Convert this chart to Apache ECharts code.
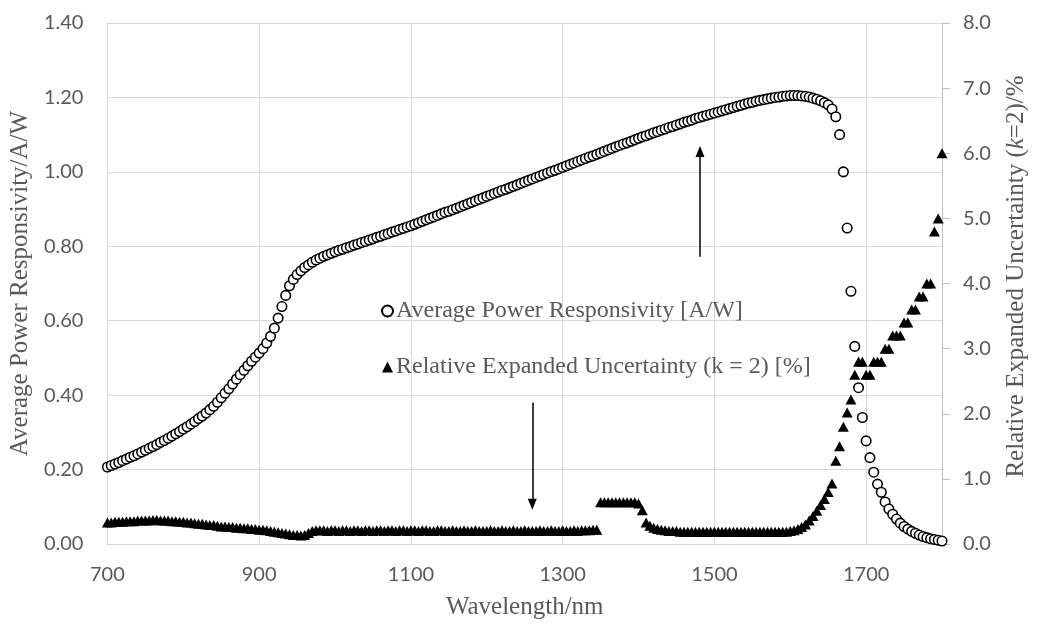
<!DOCTYPE html>
<html>
<head>
<meta charset="utf-8">
<script src="https://cdn.jsdelivr.net/npm/echarts@6/dist/echarts.min.js"></script>
<style>
html,body{margin:0;padding:0;background:#fff;}
#chart{width:1037px;height:625px;}
</style>
</head>
<body>
<div id="chart"></div>
<script>
// Wavelength (nm)
const wavelengths = [
700,705,710,715,720,725,730,735,740,745,750,755,760,765,770,775,780,785,790,795,
800,805,810,815,820,825,830,835,840,845,850,855,860,865,870,875,880,885,890,895,
900,905,910,915,920,925,930,935,940,945,950,955,960,965,970,975,980,985,990,995,
1000,1005,1010,1015,1020,1025,1030,1035,1040,1045,1050,1055,1060,1065,1070,1075,1080,1085,1090,1095,
1100,1105,1110,1115,1120,1125,1130,1135,1140,1145,1150,1155,1160,1165,1170,1175,1180,1185,1190,1195,
1200,1205,1210,1215,1220,1225,1230,1235,1240,1245,1250,1255,1260,1265,1270,1275,1280,1285,1290,1295,
1300,1305,1310,1315,1320,1325,1330,1335,1340,1345,1350,1355,1360,1365,1370,1375,1380,1385,1390,1395,
1400,1405,1410,1415,1420,1425,1430,1435,1440,1445,1450,1455,1460,1465,1470,1475,1480,1485,1490,1495,
1500,1505,1510,1515,1520,1525,1530,1535,1540,1545,1550,1555,1560,1565,1570,1575,1580,1585,1590,1595,
1600,1605,1610,1615,1620,1625,1630,1635,1640,1645,1650,1655,1660,1665,1670,1675,1680,1685,1690,1695,
1700,1705,1710,1715,1720,1725,1730,1735,1740,1745,1750,1755,1760,1765,1770,1775,1780,1785,1790,1795,
1800
];

// Average power responsivity (A/W)
const responsivity = [
0.207,0.211,0.215,0.219,0.224,0.228,0.233,0.237,0.242,0.247,0.252,0.257,0.262,0.267,0.273,0.278,0.284,0.290,0.296,0.302,
0.309,0.315,0.322,0.329,0.337,0.344,0.352,0.361,0.370,0.381,0.393,0.405,0.417,0.430,0.443,0.455,0.467,0.479,0.491,0.502,
0.513,0.525,0.540,0.558,0.580,0.607,0.638,0.668,0.694,0.711,0.724,0.734,0.743,0.750,0.757,0.763,0.768,0.773,0.777,0.781,
0.785,0.789,0.792,0.796,0.799,0.803,0.806,0.810,0.813,0.817,0.820,0.824,0.827,0.831,0.834,0.838,0.841,0.845,0.848,0.852,
0.855,0.859,0.863,0.867,0.871,0.875,0.879,0.883,0.887,0.891,0.894,0.898,0.902,0.906,0.910,0.914,0.918,0.922,0.926,0.930,
0.934,0.938,0.942,0.946,0.950,0.953,0.957,0.961,0.965,0.969,0.973,0.977,0.981,0.985,0.989,0.993,0.997,1.001,1.004,1.008,
1.012,1.016,1.020,1.024,1.028,1.032,1.036,1.040,1.043,1.047,1.051,1.055,1.059,1.063,1.067,1.071,1.075,1.078,1.082,1.086,
1.090,1.094,1.097,1.101,1.105,1.108,1.112,1.115,1.119,1.122,1.126,1.129,1.133,1.136,1.139,1.143,1.146,1.149,1.152,1.155,
1.158,1.161,1.164,1.167,1.170,1.173,1.176,1.179,1.182,1.185,1.187,1.190,1.192,1.194,1.196,1.198,1.200,1.201,1.203,1.204,
1.205,1.205,1.205,1.204,1.203,1.201,1.198,1.195,1.191,1.186,1.180,1.169,1.148,1.100,1.000,0.849,0.679,0.531,0.420,0.340,
0.277,0.232,0.193,0.161,0.139,0.113,0.094,0.080,0.067,0.056,0.047,0.040,0.034,0.029,0.024,0.020,0.017,0.014,0.012,0.010,
0.008
];

// Relative expanded uncertainty (k = 2) (%)
const uncertainty = [
0.33,0.33,0.34,0.34,0.34,0.35,0.35,0.35,0.36,0.36,0.36,0.36,0.37,0.37,0.36,0.36,0.36,0.35,0.35,0.34,
0.34,0.33,0.33,0.32,0.31,0.31,0.30,0.29,0.29,0.28,0.27,0.27,0.26,0.26,0.25,0.25,0.24,0.24,0.23,0.23,
0.22,0.22,0.21,0.20,0.19,0.18,0.17,0.16,0.15,0.14,0.14,0.13,0.14,0.17,0.20,0.21,0.21,0.21,0.20,0.21,
0.21,0.20,0.21,0.21,0.20,0.21,0.21,0.20,0.21,0.21,0.20,0.21,0.21,0.20,0.21,0.21,0.20,0.21,0.21,0.20,
0.21,0.21,0.20,0.21,0.21,0.20,0.20,0.21,0.21,0.20,0.20,0.21,0.20,0.20,0.21,0.20,0.20,0.21,0.20,0.20,
0.20,0.21,0.20,0.20,0.21,0.20,0.20,0.21,0.20,0.20,0.21,0.20,0.20,0.20,0.21,0.20,0.20,0.21,0.20,0.20,
0.21,0.20,0.20,0.21,0.20,0.21,0.21,0.21,0.22,0.22,0.64,0.64,0.64,0.64,0.64,0.64,0.64,0.64,0.64,0.64,
0.62,0.52,0.33,0.28,0.25,0.23,0.22,0.21,0.20,0.20,0.20,0.19,0.19,0.19,0.19,0.19,0.19,0.19,0.19,0.19,
0.19,0.19,0.19,0.19,0.19,0.19,0.19,0.19,0.19,0.19,0.19,0.19,0.19,0.19,0.19,0.19,0.19,0.19,0.19,0.19,
0.20,0.21,0.23,0.26,0.30,0.36,0.43,0.51,0.60,0.69,0.80,0.93,1.28,1.50,1.80,2.02,2.22,2.60,2.80,2.80,
2.60,2.60,2.80,2.80,2.80,3.00,3.00,3.20,3.20,3.20,3.40,3.40,3.60,3.60,3.80,3.80,4.00,4.00,4.80,5.00,
6.00
];

// Axis ticks
const xTicks = {min: 700, max: 1800, interval: 200};
const yLeftTicks = {min: 0, max: 1.4, interval: 0.2};
const yRightTicks = {min: 0, max: 8, interval: 1};

// Annotation arrows [wavelength, from, to] on the responsivity scale
const arrowUp = [1481, 0.772, 1.055];
const arrowDown = [1260, 0.38, 0.107];

const respData = wavelengths.map((w, i) => [w, responsivity[i]]);
const uncData = wavelengths.map((w, i) => [w, uncertainty[i]]);

const gridColor = '#d9d9d9';
const labelColor = '#595959';
const titleColor = '#595959';
const serif = '"Liberation Serif", "Times New Roman", serif';
const sans = 'Lato, "Open Sans", sans-serif';

const chart = echarts.init(document.getElementById('chart'), null, {renderer: 'canvas'});
chart.setOption({
  animation: false,
  backgroundColor: '#fff',
  grid: {left: 107, right: 87, top: 23, bottom: 80, containLabel: false},
  legend: {
    orient: 'vertical',
    left: 376,
    top: 294,
    itemGap: 32,
    itemWidth: 11,
    itemHeight: 11,
    textStyle: {fontFamily: serif, fontSize: 24, color: titleColor, padding: [0, 0, 0, -2]},
    data: ['Average Power Responsivity [A/W]', 'Relative Expanded Uncertainty (k = 2) [%]']
  },
  xAxis: {
    type: 'value',
    min: xTicks.min, max: xTicks.max, interval: xTicks.interval,
    name: 'Wavelength/nm',
    nameLocation: 'middle',
    nameGap: 51,
    nameTextStyle: {fontFamily: serif, fontSize: 25, color: titleColor},
    axisLine: {show: true, lineStyle: {color: gridColor, width: 1}},
    axisTick: {show: false},
    axisLabel: {
      margin: 21, fontFamily: sans, fontSize: 20, color: labelColor,
      formatter: v => (v === xTicks.max ? '' : String(v))
    },
    splitLine: {show: true, lineStyle: {color: gridColor, width: 1}}
  },
  yAxis: [
    {
      type: 'value',
      min: yLeftTicks.min, max: yLeftTicks.max, interval: yLeftTicks.interval,
      name: 'Average Power Responsivity/A/W',
      nameLocation: 'middle',
      nameGap: 72,
      nameTextStyle: {fontFamily: serif, fontSize: 25, color: titleColor},
      axisLine: {show: false},
      axisTick: {show: false},
      axisLabel: {margin: 24, fontFamily: sans, fontSize: 20, color: labelColor, formatter: v => v.toFixed(2)},
      splitLine: {show: true, lineStyle: {color: gridColor, width: 1}}
    },
    {
      type: 'value',
      position: 'right',
      min: yRightTicks.min, max: yRightTicks.max, interval: yRightTicks.interval,
      name: 'Relative Expanded Uncertainty ({k|k}=2)/%',
      nameLocation: 'middle',
      nameGap: 62,
      nameTextStyle: {
        fontFamily: serif, fontSize: 25, color: titleColor, padding: [0, 0, 0, 14],
        rich: {k: {fontFamily: serif, fontSize: 25, color: titleColor, fontStyle: 'italic'}}
      },
      axisLine: {show: true, lineStyle: {color: '#bfbfbf', width: 1}},
      axisTick: {show: true, length: 8, lineStyle: {color: '#bfbfbf'}},
      axisLabel: {margin: 21, fontFamily: sans, fontSize: 20, color: labelColor, formatter: v => v.toFixed(1)},
      splitLine: {show: false}
    }
  ],
  series: [
    {
      name: 'Average Power Responsivity [A/W]',
      type: 'scatter',
      yAxisIndex: 0,
      symbol: 'circle',
      symbolSize: 9.5,
      itemStyle: {color: '#ffffff', borderColor: '#000000', borderWidth: 1.6, opacity: 1},
      emphasis: {disabled: true},
      data: respData,
      z: 2,
      markLine: {
        silent: true,
        symbol: ['none', 'triangle'],
        symbolSize: [9, 11],
        label: {show: false},
        lineStyle: {color: '#000', width: 1.5, type: 'solid'},
        emphasis: {disabled: true},
        data: [
          [{coord: [arrowUp[0], arrowUp[1]]}, {coord: [arrowUp[0], arrowUp[2]]}],
          [{coord: [arrowDown[0], arrowDown[1]]}, {coord: [arrowDown[0], arrowDown[2]]}]
        ]
      }
    },
    {
      name: 'Relative Expanded Uncertainty (k = 2) [%]',
      type: 'scatter',
      yAxisIndex: 1,
      symbol: 'triangle',
      symbolSize: [11, 10],
      itemStyle: {color: '#000000', opacity: 1},
      emphasis: {disabled: true},
      data: uncData,
      z: 3
    }
  ]
});
</script>
</body>
</html>
